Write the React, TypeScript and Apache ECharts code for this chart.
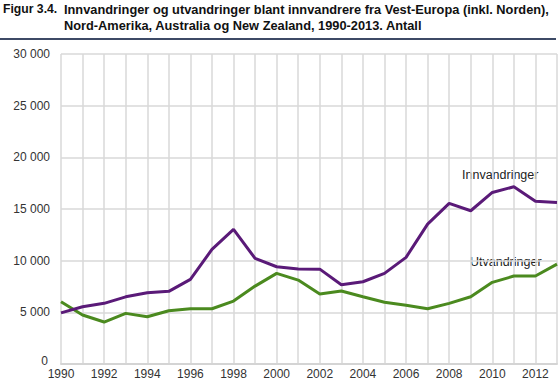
import React, { useEffect, useRef } from "react";
import * as echarts from "echarts";

const years = ["1990","1991","1992","1993","1994","1995","1996","1997","1998","1999","2000","2001","2002","2003","2004","2005","2006","2007","2008","2009","2010","2011","2012","2013"];
const innvandringer = [4950,5540,5870,6500,6900,7030,8190,11090,13030,10220,9410,9190,9180,7670,7960,8770,10320,13540,15540,14830,16600,17150,15760,15640];
const utvandringer = [6030,4740,4060,4900,4570,5150,5350,5350,6090,7540,8770,8120,6770,7060,6510,5970,5680,5350,5870,6510,7900,8510,8510,9670];
const titleNumber = "Figur 3.4.";
const titleLines = [
  "Innvandringer og utvandringer blant innvandrere fra Vest-Europa (inkl. Norden),",
  "Nord-Amerika, Australia og New Zealand, 1990-2013. Antall",
];
const seriesNames = ["Innvandringer", "Utvandringer"];

const fmt = (v: number) => {
  if (v === 0) return "{z|0}";
  const s = String(v);
  return s.replace(/\B(?=(\d{3})+(?!\d))/g, " ");
};

export default function App() {
  const ref = useRef<HTMLDivElement>(null);
  useEffect(() => {
    if (!ref.current) return;
    const chart = echarts.init(ref.current, null, { renderer: "svg" });
    const font = "Liberation Sans, Arial, sans-serif";
    chart.setOption({
      animation: false,
      backgroundColor: "#ffffff",
      textStyle: { fontFamily: font },
      grid: { left: 61, right: 3, top: 54, bottom: 27, containLabel: false },
      xAxis: {
        type: "category",
        data: years,
        boundaryGap: false,
        axisLine: { show: true, lineStyle: { color: "#d4d4d4", width: 2 } },
        axisTick: { show: false },
        axisLabel: { interval: 1, color: "#333", fontSize: 12, margin: 4, fontFamily: font },
        splitLine: { show: true, interval: 0, lineStyle: { color: "#d9d9d9", width: 1.5 } },
      },
      yAxis: {
        type: "value",
        min: 0,
        max: 30000,
        interval: 5000,
        axisLine: { show: false },
        axisTick: { show: false },
        axisLabel: {
          color: "#333",
          fontSize: 12,
          margin: 11,
          formatter: fmt,
          fontFamily: font,
          rich: { z: { fontSize: 12, color: "#333", padding: [0, 2, 6, 0], fontFamily: font } },
        },
        splitLine: { show: true, lineStyle: { color: "#d9d9d9", width: 1.5 } },
      },
      series: [
        {
          name: seriesNames[0],
          type: "line",
          data: innvandringer,
          symbol: "none",
          lineStyle: { color: "#5a1a78", width: 3 },
          z: 3,
        },
        {
          name: seriesNames[1],
          type: "line",
          data: utvandringer,
          symbol: "none",
          lineStyle: { color: "#4b8a1f", width: 3 },
          z: 2,
        },
      ],
      graphic: [
        { type: "text", left: 3, top: 3, style: { text: titleNumber, font: `bold 12.2px ${font}`, fill: "#111" } },
        { type: "text", left: 64, top: 3, style: { text: titleLines[0], font: `bold 12.8px ${font}`, fill: "#111" } },
        { type: "text", left: 64, top: 19, style: { text: titleLines[1], font: `bold 12.8px ${font}`, fill: "#111" } },
        { type: "rect", left: 0, top: 38, shape: { width: 556, height: 2 }, style: { fill: "#3d4a66" } },
        { type: "text", left: 462, top: 168, style: { text: seriesNames[0], font: `12.5px ${font}`, fill: "#222" } },
        { type: "text", left: 470, top: 255, style: { text: seriesNames[1], font: `12.5px ${font}`, fill: "#222" } },
      ],
    });
    return () => chart.dispose();
  }, []);
  return <div ref={ref} style={{ position: "fixed", left: 0, top: 0, width: 560, height: 391 }} />;
}
